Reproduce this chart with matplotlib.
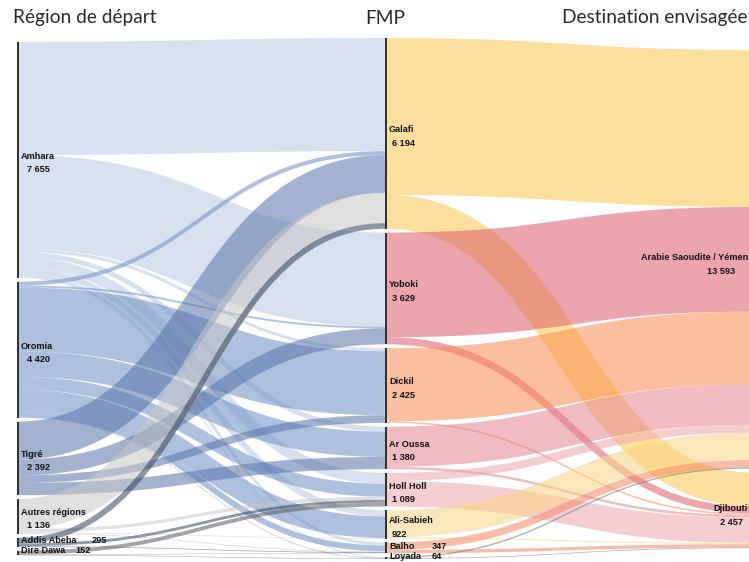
import numpy as np
import matplotlib
matplotlib.use("Agg")
import matplotlib.pyplot as plt
from matplotlib.path import Path
from matplotlib.patches import PathPatch, Rectangle

# --- data -------------------------------------------------------------
regions = ["Amhara", "Oromia", "Tigré", "Autres régions", "Addis Abeba", "Dire Dawa"]
region_vals = [7655, 4420, 2392, 1136, 295, 152]

fmps = ["Galafi", "Yoboki", "Dickil", "Ar Oussa", "Holl Holl", "Ali-Sabieh", "Balho", "Loyada"]
fmp_vals = [6194, 3629, 2425, 1380, 1089, 922, 347, 64]

dests = ["Arabie Saoudite / Yémen", "Djibouti"]
dest_vals = [13593, 2457]

# region -> FMP (rows: regions, cols: fmps)
flow_amhara = [3670, 3050, 100, 160, 350, 200, 95, 30]
flow_oromia = [130, 60, 2080, 822, 420, 700, 190, 18]
flow_tigre = [1230, 519, 245, 398, 0, 0, 0, 0]
flow_autres = [980, 0, 0, 0, 104, 22, 30, 0]
flow_addis = [184, 0, 0, 0, 91, 0, 20, 0]
flow_dire = [0, 0, 0, 0, 124, 0, 12, 16]

# FMP -> destination (Arabie/Yémen, Djibouti)
to_arabie = [5094, 3400, 2375, 1300, 260, 882, 240, 42]
to_djibouti = [1100, 229, 50, 80, 829, 40, 107, 22]

region_colors = ["#b8cae2", "#6a8fc6", "#5674a8", "#c8c8c8", "#34435f", "#5a5a5a"]
fmp_colors = ["#fcc850", "#db5d6a", "#f88c52", "#e28590", "#eda6ad", "#fbd585", "#f38863", "#6e6e6e"]

# --- layout -----------------------------------------------------------
W, H = 749, 562
ky = 0.0308
x_left, x_mid, x_right = 17, 385, 752
node_w = 1.5


def stack(vals, top, pad):
    ys = []
    y = top
    for v in vals:
        ys.append((y, y + v * ky))
        y += v * ky + pad
    return ys


left_pos = stack(region_vals, 42, 3.8)
mid_pos = stack(fmp_vals, 38, 3.8)
right_pos = stack(dest_vals, 50, 3.8)

fig = plt.figure(figsize=(W / 100, H / 100), dpi=100)
ax = fig.add_axes([0, 0, 1, 1])
ax.set_xlim(0, W)
ax.set_ylim(H, 0)
ax.axis("off")


def link(x0, y0, x1, y1, w, color, alpha=0.55):
    xm = (x0 + x1) / 2
    p = Path([(x0, y0), (xm, y0), (xm, y1), (x1, y1)],
             [Path.MOVETO, Path.CURVE4, Path.CURVE4, Path.CURVE4])
    ax.add_patch(PathPatch(p, facecolor="none", edgecolor=color, lw=w * 0.72,
                           alpha=alpha, capstyle="butt"))


def draw_links(matrix, src_pos, dst_pos, colors, xs, xt):
    out_off = [p[0] for p in src_pos]
    in_off = [p[0] for p in dst_pos]
    # outgoing stacked by target order, incoming stacked by source order
    starts = {}
    for i, row in enumerate(matrix):
        for j, v in enumerate(row):
            if v > 0:
                starts[(i, j)] = out_off[i]
                out_off[i] += v * ky
    ends = {}
    for j in range(len(dst_pos)):
        for i, row in enumerate(matrix):
            v = row[j]
            if v > 0:
                ends[(i, j)] = in_off[j]
                in_off[j] += v * ky
    for i, row in enumerate(matrix):
        for j, v in enumerate(row):
            if v > 0:
                w = v * ky
                link(xs, starts[(i, j)] + w / 2, xt, ends[(i, j)] + w / 2, w, colors[i])


left_matrix = [flow_amhara, flow_oromia, flow_tigre, flow_autres, flow_addis, flow_dire]
mid_matrix = [[a, d] for a, d in zip(to_arabie, to_djibouti)]

draw_links(left_matrix, left_pos, mid_pos, region_colors, x_left + node_w, x_mid)
draw_links(mid_matrix, mid_pos, right_pos, fmp_colors, x_mid + node_w, x_right)

for x, pos in [(x_left, left_pos), (x_mid, mid_pos), (x_right, right_pos)]:
    for y0, y1 in pos:
        ax.add_patch(Rectangle((x, y0), node_w, y1 - y0, color="#333333", lw=0))


def fmt(v):
    return f"{v:,}".replace(",", " ")


lab = dict(fontsize=6.6, fontweight="bold", family="Liberation Sans", color="#111111")

for name, v, (y0, y1) in zip(regions, region_vals, left_pos):
    c = (y0 + y1) / 2
    if v > 500:
        ax.text(x_left + 4, c - 3.5, name, va="center", ha="left", **lab)
        ax.text(x_left + 10, c + 9.5, fmt(v), va="center", ha="left", **lab)
    else:
        ax.text(x_left + 4, c - 2, name, va="center", ha="left", **lab)
        ax.text(x_left + (75 if name == "Addis Abeba" else 58), c - 2, fmt(v),
                va="center", ha="left", **lab)

for name, v, (y0, y1) in zip(fmps, fmp_vals, mid_pos):
    c = (y0 + y1) / 2
    if v > 500:
        ax.text(x_mid + 4, c - 3.5, name, va="center", ha="left", **lab)
        ax.text(x_mid + 7, c + 10, fmt(v), va="center", ha="left", **lab)
    else:
        ax.text(x_mid + 4, c - 1, name, va="center", ha="left", **lab)
        ax.text(x_mid + 47, c - 1, fmt(v), va="center", ha="left", **lab)

for name, v, (y0, y1), vx in zip(dests, dest_vals, right_pos, [735, 743]):
    c = (y0 + y1) / 2
    ax.text(748, c - 2, name, va="center", ha="right", **lab)
    ax.text(vx, c + 12, fmt(v), va="center", ha="right", **lab)

tit = dict(fontsize=13.8, family="Lato", fontweight="normal", color="#2a2a2a", va="center")
ax.text(13, 18, "Région de départ", ha="left", **tit)
ax.text(385, 18, "FMP", ha="center", **tit)
ax.text(748, 18, "Destination envisagée", ha="right", **tit)

fig.savefig("out.png", dpi=100)
